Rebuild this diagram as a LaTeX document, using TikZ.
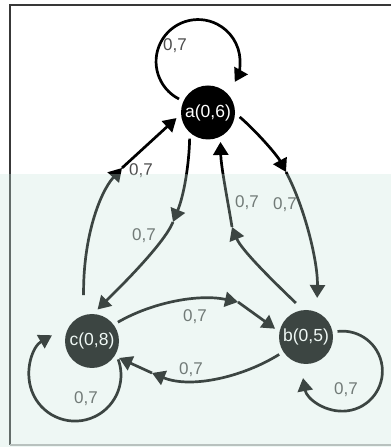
\documentclass[tikz,border=0pt]{standalone}
\usepackage{fontspec}
\setmainfont{Liberation Sans}
\usetikzlibrary{arrows.meta}
\definecolor{tint}{rgb}{0.78,0.9,0.86}
\definecolor{lbl}{HTML}{4D4D4D}
\begin{document}
\begin{tikzpicture}[x=1pt,y=1pt,
  state/.style={circle,fill=black,text=white,minimum size=54pt,inner sep=0pt,
    outer sep=5pt,font=\fontsize{17.5}{17.5}\selectfont},
  edge/.style={line width=2.7pt,-{Triangle[length=13pt,width=15pt]}},
  wlabel/.style={text=lbl,font=\fontsize{17}{17}\selectfont,inner sep=1pt}]
\useasboundingbox (0,0) rectangle (391,447);
\fill[white] (0,0) rectangle (391,447);
% frame
\draw[line width=2.5pt,black!78] (391,442) -- (10,442) -- (10,2);
\draw[line width=2pt,black!30] (10,2) -- (391,2);

% states
\node[state] (a) at (208,334.5) {a(0,6)};
\node[state] (b) at (306,110) {b(0,5)};
\node[state] (c) at (92,106) {c(0,8)};

% bend points carrying the middle arrowheads
\coordinate (ca) at (122,279);
\coordinate (ac) at (173,225);
\coordinate (ba) at (232,220);
\coordinate (ab) at (286,275);
\coordinate (cb) at (238,145);
\coordinate (bc) at (152,74);

% c -> a
\draw[edge,shorten <=15pt] (c.105) .. controls (83,210) and (100,255) .. (ca);
\draw[edge] (ca) -- (a.190);
% a -> c
\draw[edge] (a.235) .. controls (189,282) and (184,252) .. (ac);
\draw[edge] (ac) .. controls (163.6,202) and (115,155) .. (c.80);
% b -> a
\draw[edge,shorten <=4pt] (b.103) .. controls (275,164) and (241.4,196.8) .. (ba);
\draw[edge] (ba) .. controls (228,245) and (221,280) .. (a.-67);
% a -> b
\draw[edge] (a.-8) .. controls (255,317) and (276.6,292.7) .. (ab);
\draw[edge,shorten >=9pt] (ab) .. controls (304.8,239.7) and (318,185) .. (b.70);
% c -> b
\draw[edge] (c.36) .. controls (152.5,144.8) and (198.9,153.3) .. (cb);
\draw[edge] (cb) -- (b.165);
% b -> c
\draw[edge] (b.213) .. controls (243,70) and (191,58) .. (bc);
\draw[edge] (bc) -- (c.-32);
% self loops
\draw[edge] (a.155) arc[start angle=243, end angle=-29, radius=42];
\draw[edge] (c.-35) arc[start angle=20, end angle=-240, radius=46];
\draw[edge] (b.10) arc[start angle=97, end angle=-170, radius=40];

% transition weights
\node[wlabel] (laa) at (175,401) {0,7};
\node[wlabel] (lca) at (141,276) {0,7};
\node[wlabel] (lac) at (144,211) {0,7};
\node[wlabel] (lba) at (247,244) {0,7};
\node[wlabel] (lab) at (285,242) {0,7};
\node[wlabel] (lcb) at (195,130) {0,7};
\node[wlabel] (lbc) at (191,77) {0,7};
\node[wlabel] (lcc) at (86,48) {0,7};
\node[wlabel] (lbb) at (346,57) {0,7};

% pale tint over the lower part of the sheet
\fill[tint,fill opacity=0.3] (0,0) rectangle (391,273);
\end{tikzpicture}
\end{document}
